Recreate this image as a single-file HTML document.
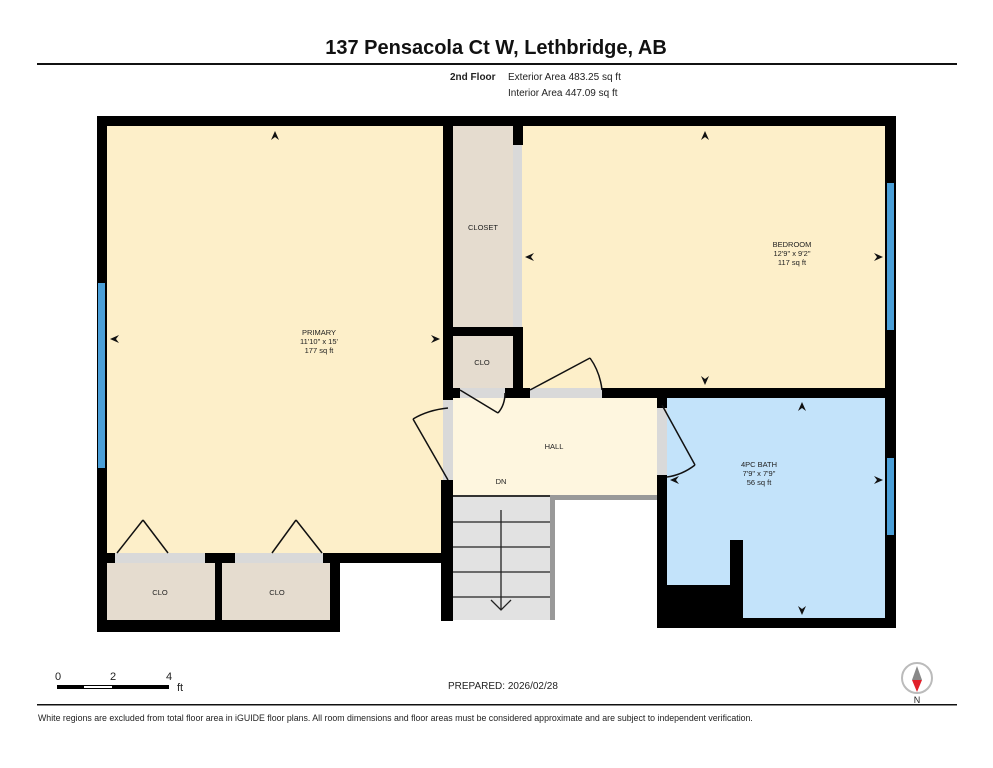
<!DOCTYPE html>
<html><head><style>
body{margin:0;background:#fff;}
svg{display:block;font-family:"Liberation Sans",sans-serif;}
</style></head><body>
<svg width="993" height="768" viewBox="0 0 993 768" xmlns="http://www.w3.org/2000/svg">
<rect width="993" height="768" fill="#fff"/>
<text x="496" y="54" text-anchor="middle" font-size="20" font-weight="bold" fill="#111">137 Pensacola Ct W, Lethbridge, AB</text>
<rect x="37" y="63" width="920" height="2" fill="#111"/>
<text x="450" y="80" font-size="10" font-weight="bold" fill="#222">2nd Floor</text>
<text x="508" y="80" font-size="10" fill="#222">Exterior Area 483.25 sq ft</text>
<text x="508" y="96" font-size="10" fill="#222">Interior Area 447.09 sq ft</text>

<rect x="107" y="126" width="336" height="427" fill="#fdefc9"/>
<rect x="453" y="126" width="60" height="201" fill="#e5dccf"/>
<rect x="513" y="145" width="9" height="182" fill="#d9d9d9"/>
<rect x="522" y="126" width="363" height="262" fill="#fdefc9"/>
<rect x="453" y="336" width="60" height="52" fill="#e5dccf"/>
<rect x="453" y="398" width="204" height="97" fill="#fef6df"/>
<rect x="443" y="400" width="10" height="80" fill="#d9d9d9"/>
<rect x="657" y="408" width="10" height="67" fill="#d9d9d9"/>
<rect x="460" y="388" width="53" height="10" fill="#d9d9d9"/>
<rect x="522" y="388" width="80" height="10" fill="#d9d9d9"/>
<rect x="667" y="398" width="218" height="220" fill="#c3e3fa"/>
<rect x="107" y="563" width="108" height="57" fill="#e5dccf"/>
<rect x="222" y="563" width="108" height="57" fill="#e5dccf"/>
<rect x="115" y="553" width="90" height="10" fill="#d9d9d9"/>
<rect x="235" y="553" width="88" height="10" fill="#d9d9d9"/>
<rect x="453" y="497" width="97" height="123" fill="#e2e2e2"/>
<rect x="550" y="497" width="5" height="123" fill="#999"/>
<rect x="550" y="495" width="107" height="5" fill="#999"/>
<g stroke="#222" stroke-width="1.3">
<line x1="453" y1="522" x2="550" y2="522"/><line x1="453" y1="547" x2="550" y2="547"/>
<line x1="453" y1="572" x2="550" y2="572"/><line x1="453" y1="597" x2="550" y2="597"/>
<line x1="501" y1="510" x2="501" y2="610"/>
<polyline points="491,600 501,610 511,600" fill="none"/>
</g>
<rect x="453" y="495" width="97" height="2" fill="#333"/>

<g fill="#000">
<rect x="97" y="116" width="799" height="10"/>
<rect x="97" y="116" width="10" height="516"/>
<rect x="97" y="620" width="243" height="12"/>
<rect x="330" y="553" width="10" height="79"/>
<rect x="205" y="553" width="30" height="10"/>
<rect x="215" y="553" width="7" height="67"/>
<rect x="97" y="553" width="18" height="10"/>
<rect x="323" y="553" width="120" height="10"/>
<rect x="443" y="116" width="10" height="284"/>
<rect x="441" y="480" width="12" height="141"/>
<rect x="513" y="126" width="10" height="19"/>
<rect x="453" y="327" width="70" height="9"/>
<rect x="513" y="327" width="10" height="71"/>
<rect x="443" y="388" width="17" height="10"/>
<rect x="505" y="388" width="25" height="10"/>
<rect x="602" y="388" width="294" height="10"/>
<rect x="885" y="116" width="11" height="512"/>
<rect x="657" y="398" width="10" height="10"/>
<rect x="657" y="475" width="10" height="153"/>
<rect x="657" y="618" width="239" height="10"/>
<rect x="667" y="585" width="76" height="33"/>
<rect x="730" y="540" width="13" height="78"/>
</g>
<rect x="98" y="283" width="7" height="185" fill="#4a9fd8"/>
<rect x="887" y="183" width="7" height="147" fill="#4a9fd8"/>
<rect x="887" y="458" width="7" height="77" fill="#4a9fd8"/>

<g stroke="#111" stroke-width="1.5" fill="none">
<line x1="448" y1="480" x2="413" y2="419"/><path d="M413,419 Q428,410 448,408"/>
<line x1="460" y1="390" x2="498" y2="413"/><path d="M498,413 Q505,405 505,393"/>
<line x1="530" y1="390" x2="590" y2="358"/><path d="M590,358 Q600,372 602,390"/>
<line x1="662" y1="405" x2="695" y2="465"/><path d="M695,465 Q682,475 667,477"/>
<line x1="117" y1="553" x2="143" y2="520"/><line x1="143" y1="520" x2="168" y2="553"/>
<line x1="272" y1="553" x2="296" y2="520"/><line x1="296" y1="520" x2="322" y2="553"/>
</g>

<g fill="#111">
<polygon points="275,131 271,140 275,137 279,140"/>
<polygon points="110,339 119,335 116,339 119,343"/>
<polygon points="440,339 431,335 434,339 431,343"/>
<polygon points="705,131 701,140 705,137 709,140"/>
<polygon points="525,257 534,253 531,257 534,261"/>
<polygon points="883,257 874,253 877,257 874,261"/>
<polygon points="705,385 701,376 705,379 709,376"/>
<polygon points="802,402 798,411 802,408 806,411"/>
<polygon points="670,480 679,476 676,480 679,484"/>
<polygon points="883,480 874,476 877,480 874,484"/>
<polygon points="802,615 798,606 802,609 806,606"/>
</g>

<g font-size="7.5" fill="#222" text-anchor="middle">
<text x="319" y="335">PRIMARY</text><text x="319" y="344">11'10" x 15'</text><text x="319" y="353">177 sq ft</text>
<text x="483" y="230">CLOSET</text>
<text x="792" y="247">BEDROOM</text><text x="792" y="256">12'9" x 9'2"</text><text x="792" y="265">117 sq ft</text>
<text x="482" y="365">CLO</text>
<text x="554" y="449">HALL</text>
<text x="501" y="484">DN</text>
<text x="759" y="467">4PC BATH</text><text x="759" y="476">7'9" x 7'9"</text><text x="759" y="485">56 sq ft</text>
<text x="160" y="595">CLO</text>
<text x="277" y="595">CLO</text>
</g>

<g font-size="11" fill="#222">
<text x="55" y="680">0</text><text x="110" y="680">2</text><text x="166" y="680">4</text><text x="177" y="691">ft</text>
</g>
<rect x="57" y="685" width="112" height="4" fill="#000"/>
<rect x="84" y="686" width="28" height="2" fill="#fff"/>
<text x="448" y="689" font-size="10" fill="#222">PREPARED: 2026/02/28</text>
<circle cx="917" cy="678" r="15" fill="#fff" stroke="#bbb" stroke-width="2"/>
<polygon points="917,666 912,680 922,680" fill="#888"/>
<polygon points="912,680 922,680 917,692" fill="#e0202a"/>
<text x="917" y="703" font-size="9" text-anchor="middle" fill="#222">N</text>
<rect x="37" y="704" width="920" height="1.5" fill="#111"/>
<text x="38" y="721" font-size="8.8" fill="#222">White regions are excluded from total floor area in iGUIDE floor plans. All room dimensions and floor areas must be considered approximate and are subject to independent verification.</text>
</svg>
</body></html>
